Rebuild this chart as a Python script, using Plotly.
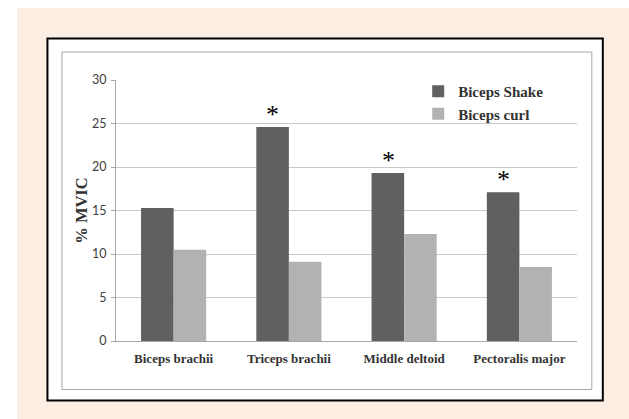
import plotly.graph_objects as go

# Muscle groups and mean activation (% MVIC) for the two exercises
muscles = ["Biceps brachii", "Triceps brachii", "Middle deltoid", "Pectoralis major"]
biceps_shake = [15.3, 24.6, 19.3, 17.1]
biceps_curl = [10.5, 9.1, 12.3, 8.5]
significant = [False, True, True, True]
y_ticks = [0, 5, 10, 15, 20, 25, 30]

W, H = 629, 419
L, R, T, B = 116, 52.3, 80, 78
pw, ph = W - L - R, H - T - B


def px(x):
    return (x - L) / pw


def py(y):
    return (H - B - y) / ph


fig = go.Figure()
fig.add_trace(go.Bar(name="Biceps Shake", x=muscles, y=biceps_shake,
                     marker=dict(color="#606060", line=dict(width=0))))
fig.add_trace(go.Bar(name="Biceps curl", x=muscles, y=biceps_curl,
                     marker=dict(color="#b2b2b2", line=dict(width=0))))

# significance markers above the Biceps Shake bars
for m, v, s in zip(muscles, biceps_shake, significant):
    if s:
        fig.add_annotation(x=m, y=v, text="*", showarrow=False,
                           xshift=-16, yshift=-4, yanchor="bottom",
                           font=dict(family="Liberation Serif", size=26, color="#000"))

shapes = [
    # peach page background
    dict(type="rect", xref="paper", yref="paper", x0=px(17), x1=px(W + 2),
         y0=py(H + 2), y1=py(8), fillcolor="#fdeee4", line=dict(width=0), layer="below"),
    # black outer frame
    dict(type="rect", xref="paper", yref="paper", x0=px(47.5), x1=px(602.5),
         y0=py(400.5), y1=py(38.5), fillcolor="#ffffff",
         line=dict(color="#000000", width=2), layer="below"),
    # grey chart-area border
    dict(type="rect", xref="paper", yref="paper", x0=px(62), x1=px(591.5),
         y0=py(389.5), y1=py(52), fillcolor="#ffffff",
         line=dict(color="#a6a6a6", width=1), layer="below"),
]

fig.update_layout(
    width=W, height=H,
    margin=dict(l=L, r=R, t=T, b=B, autoexpand=False),
    paper_bgcolor="#ffffff",
    plot_bgcolor="rgba(0,0,0,0)",
    barmode="group", bargap=0.435, bargroupgap=0,
    shapes=shapes,
    showlegend=True,
    legend=dict(x=px(418), y=py(75), xanchor="left", yanchor="top",
                bgcolor="rgba(0,0,0,0)", tracegroupgap=0,
                font=dict(family="Liberation Serif", size=15, color="#333333", weight="bold")),
    xaxis=dict(showline=True, linecolor="#a6a6a6", linewidth=1, showgrid=False,
               ticks="", ticklabelstandoff=5,
               tickfont=dict(family="Liberation Serif", size=13,
                             color="#333333", weight="bold")),
    yaxis=dict(range=[0, 30], tickvals=y_ticks, showgrid=True, gridcolor="#c8c8c8",
               gridwidth=1, showline=True, linecolor="#a6a6a6", linewidth=1,
               ticks="outside", ticklen=4, tickcolor="#a6a6a6", zeroline=False,
               ticklabelstandoff=2,
               tickfont=dict(family="Lato", size=12.5, color="#404040"),
               title=dict(text="% MVIC", standoff=0,
                          font=dict(family="Liberation Serif", size=16.5,
                                    color="#333333", weight="bold"))),
)

fig.write_html("out.html")
